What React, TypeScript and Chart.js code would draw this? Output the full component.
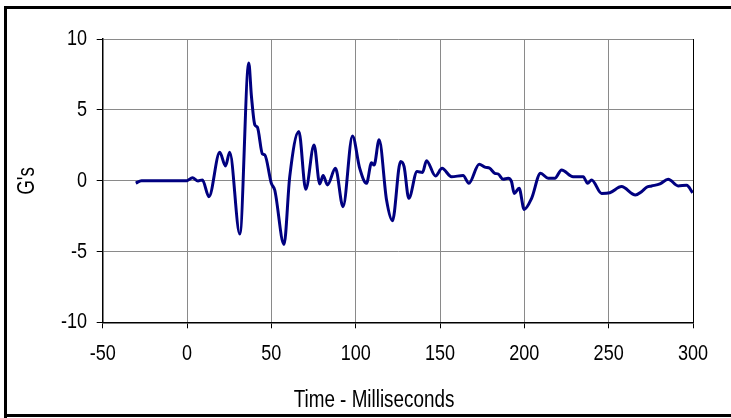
import React, { useEffect, useRef } from "react";
import { Chart, registerables } from "chart.js";

Chart.register(...registerables);

const timeMs: number[] = [
  -30.4, -27, -20, -10, 0, 3.2, 6.5, 9.1, 13, 19.4, 22.8, 25.3, 31.3, 36.6, 38.2,
  40.2, 41.7, 44.7, 46.1, 50, 52, 57.5, 60.9, 66.3, 70.4, 75.3, 78.7, 80.7, 83.3,
  88, 92.5, 98.1, 102.4, 106.4, 109.4, 110.9, 113.9, 118.3, 121.8, 126.6, 128.7,
  131.5, 136.4, 139.6, 142, 147.3, 151.2, 156.8, 163.7, 167.1, 173.2, 176.6,
  179.5, 182.5, 184.5, 187.4, 190.4, 192.4, 194, 196.9, 199.9, 204.3, 209.6,
  214.1, 218.1, 222.1, 228.9, 234.9, 237.5, 239.9, 245.8, 250.7, 257.6, 265.9,
  269.5, 272.5, 275.4, 280.4, 285.3, 291.2, 296.2, 299.8,
];

const gValues: number[] = [
  -0.18, 0, 0, 0, 0, 0.21, -0.02, 0.05, -1.13, 2.0, 1.04, 2.0, -3.77, 8.3, 5.94,
  3.94, 3.78, 1.89, 1.82, -0.19, -0.66, -4.5, 0.28, 3.47, -0.61, 2.52, -0.23, 0.36,
  -0.3, 0.87, -1.84, 3.16, 0.87, -0.19, 1.27, 1.1, 2.88, -1.37, -2.83, 1.35, 0.99,
  -1.25, 0.64, 0.58, 1.41, 0.33, 0.87, 0.28, 0.36, -0.19, 1.16, 0.95, 0.87, 0.52,
  0.47, 0.1, 0.17, -0.07, -0.9, -0.54, -2.03, -1.25, 0.52, 0.17, 0.17, 0.76, 0.28,
  0.28, -0.19, 0.05, -0.9, -0.85, -0.42, -1.01, -0.78, -0.47, -0.38, -0.23, 0.1,
  -0.37, -0.33, -0.85,
];

const xTicks: number[] = [-50, 0, 50, 100, 150, 200, 250, 300];
const yTicks: number[] = [-10, -5, 0, 5, 10];

const xTitle = "Time - Milliseconds";
const yTitle = "G's";

const FONT = "'Liberation Sans', Arial, sans-serif";
const NARROW = 0.82;

function narrowText(
  ctx: CanvasRenderingContext2D,
  text: string,
  x: number,
  y: number,
  align: CanvasTextAlign,
  size: number,
  rotate = false
) {
  ctx.save();
  ctx.translate(x, y);
  if (rotate) ctx.rotate(-Math.PI / 2);
  ctx.scale(NARROW, 1);
  ctx.font = `${size}px ${FONT}`;
  ctx.fillStyle = "#000000";
  ctx.textAlign = align;
  ctx.textBaseline = "middle";
  ctx.fillText(text, 0, 0);
  ctx.restore();
}

const framePlugin = {
  id: "frame",
  beforeDraw(chart: any) {
    const ctx = chart.ctx;
    ctx.save();
    ctx.fillStyle = "#ffffff";
    ctx.fillRect(0, 0, chart.width, chart.height);
    ctx.restore();
  },
  afterDraw(chart: any) {
    const ctx = chart.ctx as CanvasRenderingContext2D;
    const xs = chart.scales.x;
    const ys = chart.scales.y;
    xs.ticks.forEach((t: any) => {
      narrowText(ctx, String(t.value), xs.getPixelForValue(t.value), 354, "center", 22);
    });
    ys.ticks.forEach((t: any) => {
      narrowText(ctx, String(t.value), 87, ys.getPixelForValue(t.value), "right", 22);
    });
    narrowText(ctx, xTitle, 374, 401, "center", 23);
    narrowText(ctx, yTitle, 28, 181, "center", 23, true);

    ctx.save();
    ctx.fillStyle = "#000000";
    ctx.fillRect(4, 6, chart.width, 3);
    ctx.fillRect(4, 6, 3, chart.height);
    ctx.fillRect(4, 414, chart.width, 3);
    ctx.restore();
  },
};

export default function App() {
  const ref = useRef<HTMLCanvasElement | null>(null);

  useEffect(() => {
    if (!ref.current) return;
    const points = timeMs.map((t, i) => ({ x: t, y: gValues[i] }));
    const chart = new Chart(ref.current, {
      type: "line",
      data: {
        datasets: [
          {
            data: points,
            borderColor: "#000080",
            borderWidth: 3,
            pointRadius: 0,
            fill: false,
            cubicInterpolationMode: "monotone",
          },
        ],
      },
      options: {
        animation: false,
        responsive: false,
        maintainAspectRatio: false,
        layout: { padding: { left: 0, top: 39, right: 38, bottom: 0 } },
        plugins: { legend: { display: false }, tooltip: { enabled: false } },
        scales: {
          x: {
            type: "linear",
            min: -50,
            max: 300,
            afterBuildTicks: (s: any) => {
              s.ticks = xTicks.map((v) => ({ value: v }));
            },
            afterFit: (s: any) => {
              s.height = 95.7;
            },
            grid: {
              color: (c: any) => (c.tick && c.tick.value === 300 ? "#000000" : "#8a8a8a"),
              lineWidth: 1,
              tickLength: 6,
              tickColor: "#000000",
            },
            border: { color: "#000000", width: 1.5 },
            ticks: { display: false },
            title: { display: false },
          },
          y: {
            type: "linear",
            min: -10,
            max: 10,
            afterBuildTicks: (s: any) => {
              s.ticks = yTicks.map((v) => ({ value: v }));
            },
            afterFit: (s: any) => {
              s.width = 102.7;
            },
            grid: {
              color: "#8a8a8a",
              lineWidth: 1,
              tickLength: 6,
              tickColor: "#000000",
            },
            border: { color: "#000000", width: 1.5 },
            ticks: { display: false },
            title: { display: false },
          },
        },
      },
      plugins: [framePlugin],
    });
    return () => chart.destroy();
  }, []);

  return (
    <div style={{ position: "fixed", left: 0, top: 0, width: 731, height: 418, background: "#fff" }}>
      <canvas ref={ref} width={731} height={418} style={{ display: "block" }} />
    </div>
  );
}
